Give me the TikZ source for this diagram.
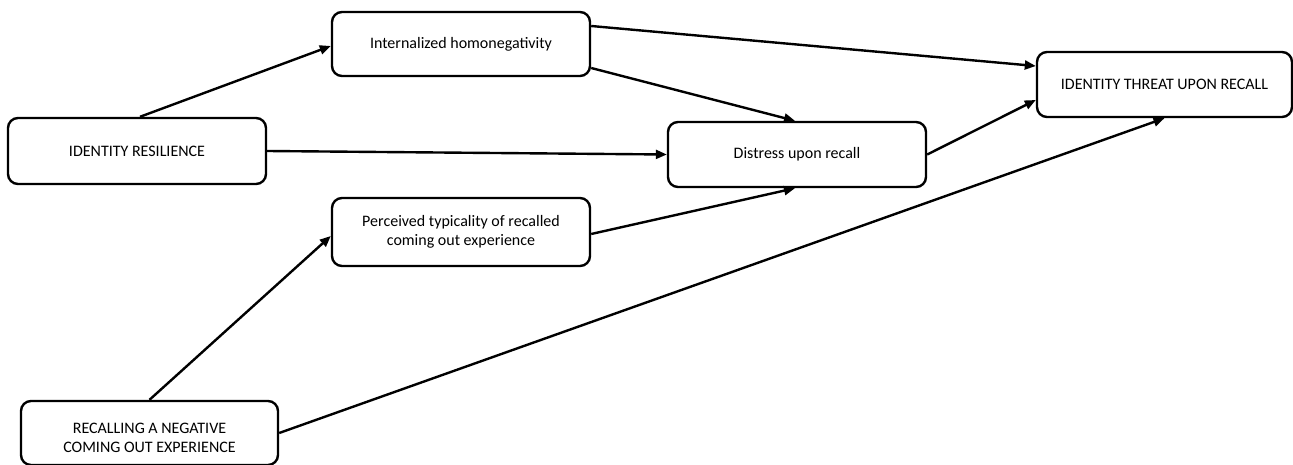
\documentclass[tikz,border=0pt]{standalone}
\usepackage{fontspec}
\setmainfont{Carlito}
\usetikzlibrary{arrows.meta}
\tikzset{
  box/.style={draw, line width=2.4pt, rounded corners=10pt, inner sep=0pt,
    minimum width=258pt, minimum height=65pt, align=center,
    font=\fontsize{16}{19}\selectfont},
  link/.style={line width=2.4pt, -{Triangle[length=11pt,width=9pt]}}
}
\begin{document}
\begin{tikzpicture}[x=1pt,y=-1pt]
\useasboundingbox (0,0) rectangle (1293,465);
\node[box, minimum height=64pt] (ih) at (461,44) {Internalized homonegativity};
\node[box, minimum height=66pt] (ir) at (137,151) {IDENTITY RESILIENCE};
\node[box] (du) at (797,154.5) {Distress upon recall};
\node[box, minimum width=255pt] (it) at (1164.5,84.5) {IDENTITY THREAT UPON RECALL};
\node[box, minimum height=68pt] (pt) at (461,232) {Perceived typicality of recalled\\coming out experience};
\node[box, minimum width=257pt, minimum height=64pt] (rn) at (149.5,433) {\raisebox{-9.5pt}[0pt][0pt]{\parbox{250pt}{\centering RECALLING A NEGATIVE\\COMING OUT EXPERIENCE}}};
\draw[link] ([xshift=3pt]ir.north) -- ([yshift=-2pt]ih.west);
\draw[link] ([yshift=18pt]ih.east) -- ([yshift=18.5pt]it.west);
\draw[link] ([yshift=-24pt]ih.east) -- ([xshift=-2pt]du.north);
\draw[link] (ir.east) -- (du.west);
\draw[link] (du.east) -- ([yshift=-15.5pt]it.west);
\draw[link] ([yshift=-2pt]pt.east) -- ([xshift=-2pt]du.south);
\draw[link] (rn.north) -- ([yshift=-4pt]pt.west);
\draw[link] (rn.east) -- (it.south);
\end{tikzpicture}
\end{document}
